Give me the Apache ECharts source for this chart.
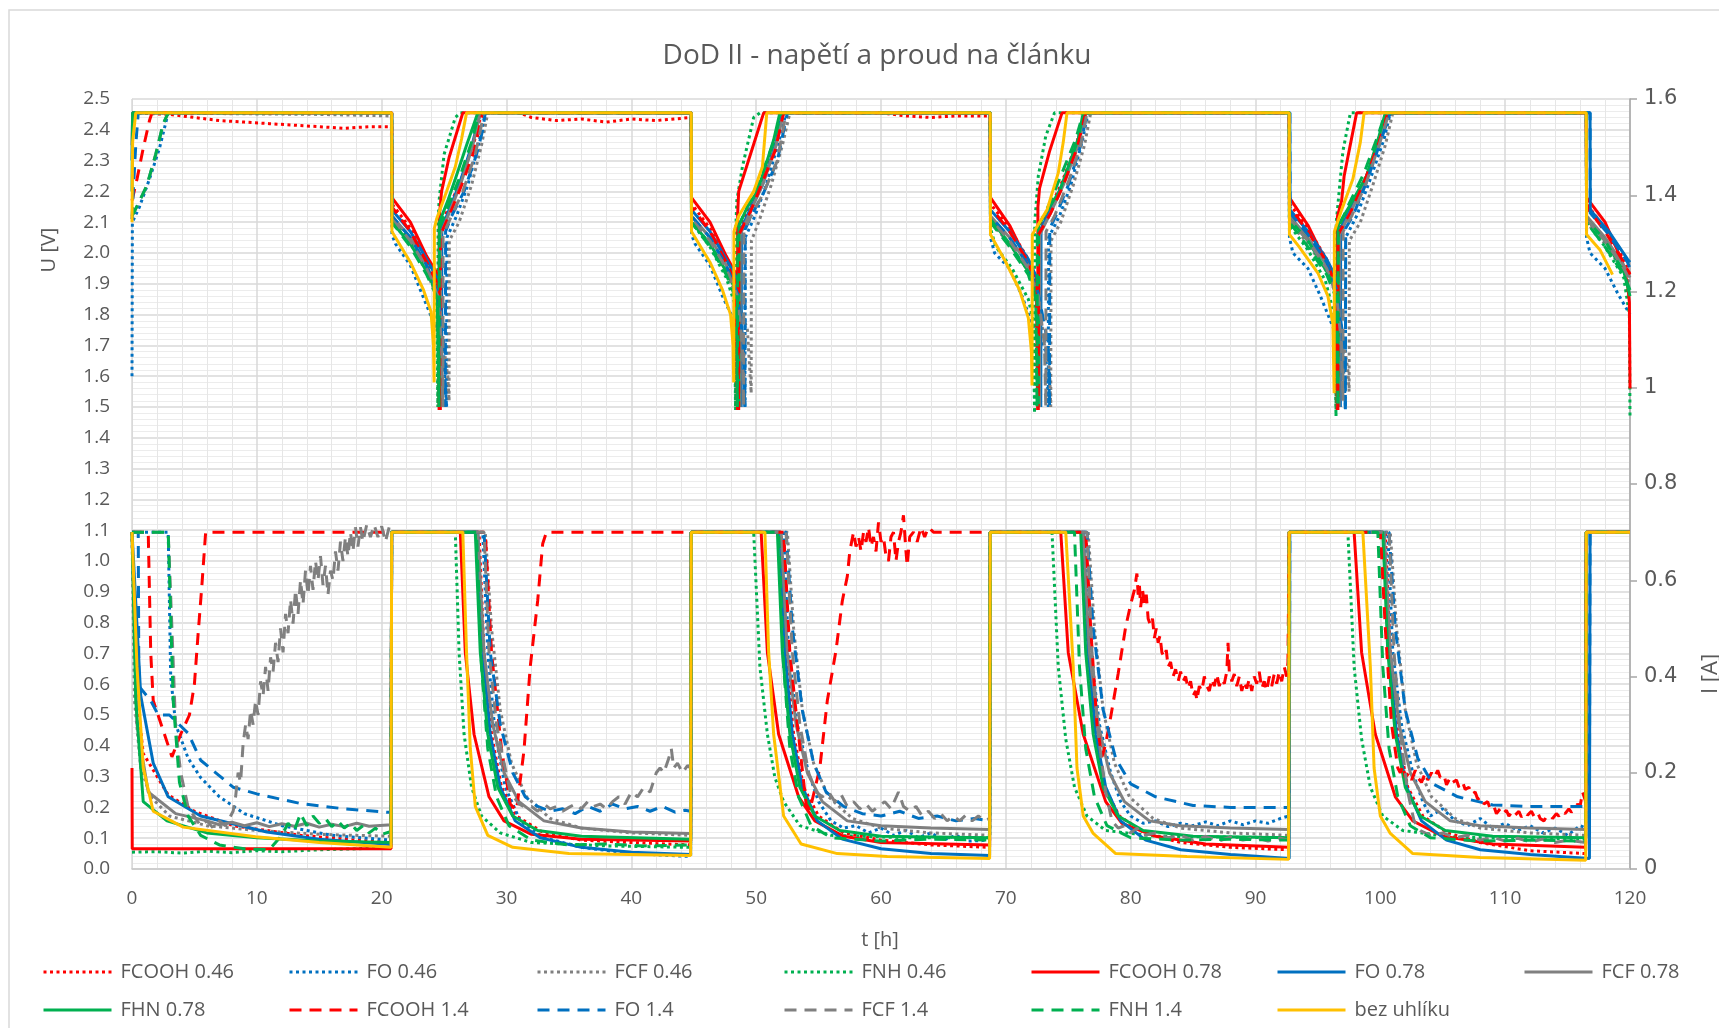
<!DOCTYPE html>
<html><head><meta charset="utf-8">
<script src="https://cdn.jsdelivr.net/npm/echarts@6/dist/echarts.min.js"></script>
<style>html,body{margin:0;padding:0;background:#fff;overflow:hidden}#c{width:1719px;height:1028px}</style>
</head><body><div id="c"></div><script>
// ---------- DATA ----------
const chartTitle = 'DoD II - napětí a proud na článku';
const xName = 't [h]', yLeftName = 'U [V]', yRightName = 'I [A]';
const seriesNames = ['FCOOH 0.46','FO 0.46','FCF 0.46','FNH 0.46','FCOOH 0.78','FO 0.78','FCF 0.78','FHN 0.78','FCOOH 1.4','FO 1.4','FCF 1.4','FNH 1.4','bez uhlíku'];

// Voltage [t h, U V]
const V_FCOOH_046 = [[0,2.455],[3,2.45],[5,2.44],[7,2.43],[9,2.425],[11,2.42],[13,2.415],[15,2.41],[17,2.405],[19,2.41],[20.78,2.41],[20.82,2.16],[22.3,2.08],[23.6,1.98],[24.5,1.88],[24.6,1.52],[24.62,2.08],[25.4,2.15],[26.3,2.23],[27.4,2.36],[28.0,2.455],[31,2.455],[32,2.44],[34,2.43],[36,2.435],[38,2.425],[40,2.435],[42,2.43],[44.78,2.44],[44.82,2.16],[46.3,2.08],[47.6,1.98],[48.5,1.88],[48.6,1.52],[48.62,2.08],[49.5,2.15],[50.4,2.23],[51.6,2.36],[52.2,2.455],[60,2.455],[62,2.445],[64,2.44],[66,2.445],[68.73,2.445],[68.77,2.16],[70.3,2.08],[71.8,1.98],[72.5,1.88],[72.6,1.52],[72.62,2.08],[73.6,2.15],[74.5,2.23],[75.7,2.36],[76.3,2.455],[92.7,2.455],[92.72,2.16],[94.2,2.08],[95.7,1.98],[96.6,1.88],[96.7,1.52],[96.72,2.08],[97.7,2.15],[98.9,2.25],[100,2.37],[100.6,2.455],[116.5,2.455],[116.52,2.16],[118,2.08],[119.5,1.98],[120,1.93]];
const V_FO_046 = [[0,1.60],[0.03,2.10],[0.6,2.15],[1.4,2.24],[2.2,2.34],[2.9,2.455],[20.8,2.455],[20.82,2.06],[21.1,2.03],[22.3,1.96],[23.3,1.86],[24.0,1.79],[24.9,1.72],[25.2,1.50],[25.22,2.05],[26.0,2.12],[26.9,2.22],[27.8,2.36],[28.3,2.455],[44.8,2.455],[44.82,2.06],[45.1,2.03],[46.3,1.96],[47.3,1.86],[48.0,1.80],[48.9,1.70],[49.1,1.50],[49.12,2.05],[49.9,2.12],[50.8,2.22],[51.8,2.36],[52.4,2.455],[68.75,2.455],[68.77,2.05],[69.1,2.0],[70.3,1.95],[71.3,1.86],[72.0,1.78],[73.2,1.68],[73.4,1.50],[73.42,2.05],[74.3,2.12],[75.2,2.22],[76.1,2.36],[76.6,2.455],[92.7,2.455],[92.72,2.05],[93.0,2.0],[94.2,1.95],[95.2,1.86],[96.0,1.78],[97.0,1.68],[97.2,1.50],[97.22,2.05],[98.1,2.12],[99.2,2.24],[100.3,2.37],[100.8,2.455],[116.5,2.455],[116.52,2.05],[116.8,2.0],[118,1.95],[119,1.87],[120,1.80]];
const V_FCF_046 = [[0,2.455],[15,2.45],[20.78,2.445],[20.82,2.10],[22.3,2.03],[23.6,1.94],[24.4,1.86],[25.3,1.60],[25.4,1.52],[25.42,2.04],[26.2,2.10],[27.2,2.22],[28.0,2.35],[28.5,2.455],[44.8,2.455],[44.82,2.10],[46.3,2.03],[47.6,1.94],[48.4,1.86],[49.3,1.75],[49.6,1.545],[49.62,2.04],[50.2,2.10],[51.2,2.22],[52.1,2.35],[52.7,2.455],[68.75,2.455],[68.77,2.10],[70.3,2.03],[71.8,1.94],[72.5,1.86],[73.5,1.62],[73.6,1.50],[73.62,2.04],[74.4,2.10],[75.4,2.22],[76.3,2.35],[76.8,2.455],[92.7,2.455],[92.72,2.10],[94.2,2.03],[95.7,1.94],[96.5,1.86],[97.4,1.62],[97.5,1.55],[97.52,2.04],[98.4,2.10],[99.4,2.22],[100.4,2.35],[101.0,2.455],[116.5,2.455],[116.52,2.10],[118,2.03],[119.5,1.94],[120,1.90]];
const V_FNH_046 = [[0,2.455],[20.8,2.455],[20.82,2.12],[22.3,2.04],[23.6,1.95],[24.4,1.86],[24.5,1.50],[24.52,2.10],[24.6,2.17],[25.0,2.32],[25.9,2.44],[26.3,2.455],[44.8,2.455],[44.82,2.10],[46.3,2.02],[47.6,1.92],[48.25,1.84],[48.35,1.49],[48.37,2.08],[48.45,2.17],[48.9,2.28],[49.8,2.44],[50.3,2.455],[68.75,2.455],[68.77,2.08],[69.2,2.02],[70.5,1.95],[71.8,1.85],[72.2,1.78],[72.3,1.48],[72.32,2.10],[72.6,2.25],[73.2,2.38],[73.9,2.455],[92.7,2.455],[92.72,2.09],[94.2,2.01],[95.6,1.91],[96.3,1.80],[96.45,1.47],[96.47,2.10],[96.7,2.20],[97.0,2.33],[97.6,2.455],[116.5,2.455],[116.52,2.10],[118.0,2.02],[119.5,1.92],[119.95,1.80],[120,1.47]];
const V_FCOOH_078 = [[0,2.455],[20.8,2.455],[20.82,2.18],[22.3,2.10],[23.6,1.99],[24.5,1.93],[24.6,1.49],[24.62,2.12],[24.8,2.20],[25.4,2.31],[26.5,2.455],[44.8,2.455],[44.82,2.18],[46.3,2.10],[47.6,1.99],[48.4,1.93],[48.5,1.49],[48.52,2.13],[48.6,2.20],[49.5,2.315],[50.6,2.455],[68.75,2.455],[68.77,2.18],[70.3,2.09],[71.8,1.965],[72.45,1.92],[72.55,1.49],[72.57,2.15],[72.7,2.21],[73.5,2.33],[74.5,2.455],[92.7,2.455],[92.72,2.18],[94.2,2.09],[95.7,1.966],[96.45,1.92],[96.55,1.49],[96.57,2.12],[96.9,2.17],[97.1,2.25],[98.1,2.455],[116.5,2.455],[116.52,2.18],[118.0,2.10],[119.4,1.97],[119.8,1.90],[119.95,1.84],[120,1.56]];
const V_FO_078 = [[0,2.30],[0.05,2.455],[20.8,2.455],[20.82,2.14],[22.3,2.07],[23.6,1.98],[24.7,1.90],[24.8,1.50],[24.82,2.08],[25.5,2.15],[26.2,2.22],[27.3,2.36],[27.9,2.455],[44.8,2.455],[44.82,2.14],[46.3,2.07],[47.6,1.98],[48.7,1.90],[48.8,1.50],[48.82,2.08],[49.6,2.15],[50.5,2.22],[51.6,2.36],[52.1,2.455],[68.75,2.455],[68.77,2.14],[70.3,2.07],[71.8,1.98],[72.7,1.90],[72.8,1.50],[72.82,2.08],[73.7,2.15],[74.6,2.23],[75.8,2.37],[76.3,2.455],[92.75,2.455],[92.77,2.14],[94.2,2.07],[95.7,1.98],[96.7,1.90],[96.8,1.50],[96.82,2.08],[97.7,2.15],[98.9,2.25],[100.0,2.38],[100.5,2.455],[116.8,2.455],[116.82,2.14],[118.3,2.07],[119.8,1.98],[120,1.97]];
const V_FCF_078 = [[0,2.35],[0.05,2.455],[20.8,2.455],[20.82,2.12],[22.3,2.05],[23.6,1.96],[24.6,1.86],[24.7,1.50],[24.72,2.06],[25.5,2.14],[26.3,2.22],[27.3,2.35],[27.9,2.455],[44.8,2.455],[44.82,2.12],[46.3,2.05],[47.6,1.96],[48.6,1.86],[48.7,1.50],[48.72,2.06],[49.6,2.14],[50.5,2.22],[51.6,2.35],[52.2,2.455],[68.75,2.455],[68.77,2.12],[70.3,2.05],[71.8,1.96],[72.6,1.86],[72.7,1.50],[72.72,2.06],[73.7,2.14],[74.6,2.22],[75.8,2.35],[76.4,2.455],[92.7,2.455],[92.72,2.12],[94.2,2.05],[95.7,1.96],[96.6,1.86],[96.7,1.50],[96.72,2.06],[97.7,2.14],[98.9,2.24],[100,2.37],[100.5,2.455],[116.5,2.455],[116.52,2.12],[118.0,2.05],[119.5,1.96],[120,1.92]];
const V_FHN_078 = [[0,2.20],[0.05,2.455],[20.8,2.455],[20.82,2.10],[22.3,2.03],[23.6,1.94],[24.45,1.87],[24.6,1.50],[24.62,2.10],[25.3,2.17],[25.9,2.24],[26.8,2.35],[27.4,2.42],[27.7,2.455],[44.8,2.455],[44.82,2.10],[46.3,2.03],[47.6,1.94],[48.5,1.87],[48.6,1.50],[48.62,2.09],[49.3,2.15],[50.1,2.20],[51.4,2.367],[51.9,2.455],[68.75,2.455],[68.77,2.11],[70.3,2.03],[71.8,1.94],[72.5,1.87],[72.6,1.50],[72.62,2.09],[73.5,2.15],[74.3,2.20],[75.8,2.37],[76.2,2.455],[92.7,2.455],[92.72,2.11],[94.2,2.04],[95.7,1.94],[96.5,1.88],[96.6,1.50],[96.62,2.09],[97.5,2.15],[98.9,2.25],[99.9,2.38],[100.4,2.455],[116.5,2.455],[116.52,2.11],[118.0,2.04],[119.5,1.94],[120,1.86]];
const V_FCOOH_14 = [[0,2.17],[0.4,2.24],[0.9,2.34],[1.4,2.43],[1.6,2.455],[20.8,2.455],[20.82,2.15],[22.3,2.07],[23.6,1.97],[24.6,1.89],[24.7,1.49],[24.72,2.06],[25.5,2.13],[26.4,2.22],[27.4,2.33],[28.1,2.455],[44.8,2.455],[44.82,2.15],[46.3,2.07],[47.6,1.97],[48.5,1.89],[48.6,1.49],[48.62,2.06],[49.5,2.13],[50.4,2.22],[51.5,2.33],[52.2,2.455],[68.75,2.455],[68.77,2.15],[70.3,2.07],[71.8,1.97],[72.5,1.89],[72.6,1.49],[72.62,2.06],[73.6,2.13],[74.6,2.22],[75.7,2.34],[76.4,2.455],[92.7,2.455],[92.72,2.15],[94.2,2.07],[95.7,1.97],[96.5,1.89],[96.6,1.49],[96.62,2.06],[97.6,2.13],[98.8,2.24],[99.9,2.36],[100.6,2.455],[116.5,2.455],[116.52,2.15],[118,2.07],[119.5,1.97],[120,1.93]];
const V_FO_14 = [[0,2.11],[0.1,2.20],[0.3,2.35],[0.5,2.455],[20.8,2.455],[20.82,2.12],[22.3,2.05],[23.6,1.96],[24.5,1.87],[25.0,1.70],[25.1,1.50],[25.12,2.07],[25.6,2.12],[26.6,2.20],[27.6,2.32],[28.1,2.40],[28.3,2.455],[44.8,2.455],[44.82,2.12],[46.3,2.05],[47.6,1.96],[48.5,1.87],[49.0,1.70],[49.1,1.50],[49.12,2.077],[49.6,2.12],[50.6,2.196],[51.7,2.30],[52.5,2.455],[68.75,2.455],[68.77,2.12],[70.3,2.05],[71.8,1.96],[72.6,1.87],[73.4,1.70],[73.5,1.50],[73.52,2.08],[74.0,2.12],[75.0,2.22],[76.0,2.35],[76.5,2.455],[92.75,2.455],[92.77,2.13],[94.2,2.06],[95.7,1.97],[96.5,1.88],[97.1,1.70],[97.2,1.48],[97.22,2.08],[97.8,2.12],[98.9,2.23],[100,2.36],[100.8,2.455],[116.8,2.455],[116.82,2.13],[118.3,2.06],[119.8,1.97],[120,1.95]];
const V_FCF_14 = [[0,2.12],[0.5,2.16],[1.2,2.22],[1.9,2.32],[2.5,2.42],[2.9,2.455],[20.8,2.455],[20.82,2.11],[22.3,2.04],[23.6,1.95],[24.5,1.86],[24.8,1.70],[24.9,1.50],[24.92,2.06],[25.6,2.12],[26.5,2.20],[27.5,2.32],[28.2,2.455],[44.8,2.455],[44.82,2.11],[46.3,2.04],[47.6,1.95],[48.5,1.86],[48.9,1.70],[49.0,1.50],[49.02,2.077],[49.6,2.12],[50.6,2.196],[51.7,2.30],[52.4,2.455],[68.75,2.455],[68.77,2.11],[70.3,2.04],[71.8,1.95],[72.6,1.86],[73.1,1.70],[73.2,1.50],[73.22,2.07],[73.9,2.12],[75,2.23],[76,2.35],[76.5,2.455],[92.7,2.455],[92.72,2.11],[94.2,2.04],[95.7,1.95],[96.5,1.86],[96.9,1.70],[97.0,1.52],[97.02,2.07],[97.7,2.12],[98.8,2.22],[99.9,2.35],[100.7,2.455],[116.5,2.455],[116.52,2.11],[118,2.04],[119.5,1.95],[120,1.91]];
const V_FNH_14 = [[0,2.12],[0.5,2.16],[1.2,2.22],[1.9,2.32],[2.5,2.42],[2.9,2.455],[20.8,2.455],[20.82,2.10],[22.3,2.02],[23.6,1.93],[24.5,1.85],[24.6,1.50],[24.62,2.08],[25.4,2.16],[26.2,2.24],[27.2,2.36],[27.8,2.455],[44.8,2.455],[44.82,2.10],[46.3,2.02],[47.6,1.93],[48.4,1.85],[48.5,1.50],[48.52,2.08],[49.4,2.16],[50.3,2.24],[51.4,2.36],[52.0,2.455],[68.75,2.455],[68.77,2.10],[70.3,2.02],[71.8,1.93],[72.4,1.85],[72.5,1.50],[72.52,2.08],[73.5,2.16],[74.4,2.25],[75.6,2.37],[76.2,2.455],[92.7,2.455],[92.72,2.10],[94.2,2.02],[95.7,1.93],[96.5,1.85],[96.6,1.50],[96.62,2.08],[97.5,2.16],[98.7,2.26],[99.8,2.38],[100.4,2.455],[116.5,2.455],[116.52,2.10],[118.0,2.02],[119.5,1.93],[120,1.88]];
const V_BEZ = [[0,2.10],[0.05,2.36],[0.3,2.455],[20.8,2.455],[20.82,2.07],[22.3,1.97],[23.35,1.88],[23.95,1.81],[24.15,1.70],[24.2,1.58],[24.22,2.08],[24.4,2.11],[25.2,2.20],[25.9,2.28],[26.4,2.37],[26.8,2.455],[44.8,2.455],[44.82,2.07],[46.3,1.97],[47.3,1.88],[47.95,1.80],[48.15,1.70],[48.2,1.58],[48.22,2.07],[48.6,2.12],[49.8,2.20],[50.5,2.28],[50.85,2.455],[68.75,2.455],[68.77,2.06],[70.0,1.97],[71.1,1.88],[71.8,1.79],[72.05,1.68],[72.1,1.57],[72.12,2.06],[73.3,2.14],[74.2,2.26],[74.6,2.36],[74.9,2.455],[92.7,2.455],[92.72,2.06],[93.5,2.02],[95.0,1.935],[95.8,1.86],[96.2,1.77],[96.3,1.545],[96.32,2.07],[96.9,2.14],[97.8,2.24],[98.4,2.36],[98.7,2.455],[116.5,2.455],[116.52,2.06],[117.6,2.01],[118.6,1.93]];

// Current [t h, I A]
const I_FCOOH_046 = [[0,0.7],[0.3,0.38],[0.9,0.24],[2.9,0.154],[5,0.12],[8.1,0.09],[13.5,0.07],[18.9,0.058],[20.75,0.055],[20.8,0.7],[27.8,0.7],[28.2,0.45],[28.8,0.28],[29.6,0.17],[30.8,0.11],[33,0.075],[36,0.06],[40,0.055],[44.75,0.05],[44.8,0.7],[52.0,0.7],[52.4,0.45],[53,0.28],[53.8,0.17],[55,0.11],[57,0.075],[60,0.06],[64,0.05],[68.7,0.045],[68.75,0.7],[76.1,0.7],[76.5,0.45],[77.1,0.28],[77.9,0.17],[79.1,0.11],[81.1,0.075],[84,0.055],[88,0.045],[92.65,0.04],[92.7,0.7],[100.4,0.7],[100.8,0.45],[101.4,0.28],[102.2,0.17],[103.4,0.11],[105.4,0.075],[108,0.055],[112,0.038],[116.45,0.032],[116.5,0.7],[120,0.7]];
const I_FO_046 = [[0,0.7],[2.9,0.7],[3.1,0.4],[3.5,0.3],[4.5,0.23],[5.5,0.19],[7,0.15],[9,0.115],[12,0.09],[16,0.07],[20.75,0.06],[20.8,0.7],[28.1,0.7],[28.5,0.45],[29.1,0.28],[29.9,0.17],[31.1,0.1],[33,0.065],[36,0.045],[40,0.032],[44.75,0.026],[44.8,0.7],[52.2,0.7],[52.6,0.45],[53.3,0.3],[54.2,0.2],[55,0.14],[56,0.1],[57,0.085],[58,0.09],[59,0.075],[60,0.085],[61,0.07],[62,0.08],[63,0.065],[64,0.075],[65,0.06],[66,0.07],[67,0.058],[68.7,0.06],[68.75,0.7],[76.4,0.7],[76.8,0.45],[77.5,0.3],[78.4,0.2],[79.2,0.14],[80,0.11],[81,0.095],[82,0.1],[83,0.088],[84,0.095],[85,0.09],[86,0.098],[87,0.09],[88,0.1],[89,0.092],[90,0.1],[91,0.095],[92,0.105],[92.65,0.11],[92.7,0.7],[100.6,0.7],[101,0.45],[101.7,0.3],[102.6,0.2],[103.4,0.14],[104,0.11],[105,0.125],[106,0.1],[107,0.09],[108,0.105],[109,0.085],[110,0.095],[111,0.08],[112,0.09],[113,0.075],[114,0.085],[115,0.07],[116,0.09],[116.45,0.085],[116.5,0.7],[120,0.7]];
const I_FCF_046 = [[0,0.7],[0.2,0.35],[0.7,0.21],[1.5,0.15],[3,0.11],[6,0.09],[10,0.08],[15,0.072],[20.75,0.068],[20.8,0.7],[28.3,0.7],[28.8,0.5],[29.5,0.33],[30.4,0.22],[31.6,0.15],[33.5,0.105],[36,0.085],[40,0.075],[44.75,0.07],[44.8,0.7],[52.5,0.7],[53,0.5],[53.7,0.33],[54.6,0.22],[55.8,0.15],[57.7,0.105],[60,0.085],[64,0.075],[68.7,0.07],[68.75,0.7],[76.6,0.7],[77.1,0.5],[77.8,0.33],[78.7,0.22],[79.9,0.15],[81.8,0.105],[84,0.085],[88,0.075],[92.65,0.07],[92.7,0.7],[100.8,0.7],[101.3,0.5],[102,0.33],[102.9,0.22],[104.1,0.15],[106,0.105],[108,0.085],[112,0.075],[116.45,0.07],[116.5,0.7],[120,0.7]];
const I_FNH_046 = [[0,0.035],[2,0.036],[4,0.033],[6,0.037],[8,0.034],[10,0.038],[12,0.036],[15,0.04],[18,0.042],[20.75,0.045],[20.8,0.7],[25.9,0.7],[26.2,0.45],[26.6,0.28],[27.2,0.17],[28,0.11],[29.5,0.075],[32,0.055],[38,0.048],[44.75,0.045],[44.8,0.7],[49.8,0.7],[50.3,0.42],[50.9,0.28],[51.5,0.19],[52.2,0.14],[53.5,0.09],[56,0.07],[62,0.065],[68.7,0.065],[68.75,0.7],[73.7,0.7],[74.2,0.42],[74.8,0.27],[75.5,0.17],[76.5,0.11],[78,0.08],[82,0.068],[92.65,0.065],[92.7,0.7],[97.4,0.7],[97.9,0.42],[98.5,0.27],[99.2,0.17],[100.2,0.11],[101.8,0.08],[106,0.066],[116.45,0.062],[116.5,0.7],[120,0.7]];
const I_FCOOH_078 = [[0,0.21],[0.02,0.042],[20.75,0.042],[20.8,0.7],[26.3,0.7],[26.7,0.45],[27.4,0.28],[28.6,0.15],[29.8,0.1],[32,0.072],[36,0.062],[44.75,0.058],[44.8,0.7],[50.4,0.7],[50.9,0.45],[51.8,0.28],[53.4,0.15],[54.7,0.1],[57,0.068],[60,0.055],[68.7,0.05],[68.75,0.7],[74.4,0.7],[75.0,0.45],[76.2,0.28],[78.0,0.14],[79.3,0.095],[82,0.068],[86,0.052],[92.65,0.045],[92.7,0.7],[97.9,0.7],[98.5,0.45],[99.6,0.28],[101.2,0.15],[102.6,0.1],[105,0.068],[109,0.052],[116.45,0.045],[116.5,0.7],[120,0.7]];
const I_FO_078 = [[0,0.7],[0.7,0.36],[1.7,0.22],[2.9,0.15],[5.5,0.11],[10.8,0.077],[15,0.062],[20.75,0.051],[20.8,0.7],[27.7,0.7],[28.1,0.45],[28.7,0.28],[29.5,0.17],[30.7,0.1],[32.7,0.065],[36,0.045],[40,0.035],[44.75,0.03],[44.8,0.7],[51.9,0.7],[52.3,0.45],[52.9,0.28],[53.7,0.17],[54.9,0.1],[56.9,0.062],[60,0.042],[64,0.032],[68.7,0.028],[68.75,0.7],[76.2,0.7],[76.6,0.45],[77.2,0.28],[78,0.17],[79.2,0.1],[81.2,0.06],[84,0.04],[88,0.03],[92.7,0.022],[92.75,0.7],[100.3,0.7],[100.7,0.45],[101.3,0.28],[102.1,0.17],[103.3,0.1],[105.3,0.06],[108,0.04],[112,0.03],[116.75,0.022],[116.8,0.7],[120,0.7]];
const I_FCF_078 = [[0,0.7],[0.4,0.3],[1.3,0.16],[3.5,0.115],[6,0.1],[7,0.092],[8,0.097],[9,0.09],[10,0.096],[11,0.088],[12,0.094],[13,0.089],[14,0.095],[15,0.087],[16,0.093],[17,0.088],[18,0.095],[19,0.089],[20.75,0.092],[20.8,0.7],[27.7,0.7],[28.2,0.45],[28.9,0.3],[29.8,0.2],[31,0.14],[33,0.1],[36,0.085],[40,0.077],[44.75,0.074],[44.8,0.7],[52.0,0.7],[52.5,0.45],[53.2,0.3],[54.1,0.2],[55.3,0.14],[57.3,0.1],[60,0.09],[64,0.085],[68.7,0.082],[68.75,0.7],[76.2,0.7],[76.7,0.45],[77.4,0.3],[78.3,0.2],[79.5,0.14],[81.5,0.1],[84,0.09],[88,0.085],[92.65,0.082],[92.7,0.7],[100.3,0.7],[100.8,0.45],[101.5,0.3],[102.4,0.2],[103.6,0.14],[105.6,0.1],[108,0.09],[112,0.085],[116.45,0.082],[116.5,0.7],[120,0.7]];
const I_FHN_078 = [[0,0.7],[0.3,0.35],[0.9,0.14],[2.8,0.1],[6,0.075],[10,0.065],[15,0.058],[20.75,0.055],[20.8,0.7],[27.5,0.7],[27.9,0.45],[28.5,0.28],[29.3,0.17],[30.5,0.11],[32.5,0.08],[36,0.068],[44.75,0.062],[44.8,0.7],[51.7,0.7],[52.1,0.45],[52.7,0.28],[53.5,0.17],[54.7,0.11],[56.7,0.08],[60,0.068],[68.7,0.065],[68.75,0.7],[76.0,0.7],[76.4,0.45],[77.0,0.28],[77.8,0.17],[79,0.11],[81,0.08],[85,0.068],[92.65,0.065],[92.7,0.7],[100.2,0.7],[100.6,0.45],[101.2,0.28],[102,0.17],[103.2,0.11],[105.2,0.08],[109,0.068],[116.45,0.065],[116.5,0.7],[120,0.7]];
const I_FCOOH_14 = [[0,0.7],[1.3,0.7],[1.5,0.45],[1.7,0.35],[2.6,0.28],[3.2,0.233],[3.9,0.28],[4.6,0.32],[5.0,0.384],[5.3,0.49],[5.6,0.59],[5.9,0.7],[28.3,0.7],[28.8,0.45],[29.6,0.25],[30.3,0.135],[30.8,0.122],[31.4,0.246],[31.9,0.42],[32.5,0.558],[32.9,0.676],[33.2,0.7],[52.2,0.7],[52.7,0.45],[53.3,0.3],[54.0,0.135],[54.3,0.122],[55.1,0.21],[55.7,0.35],[56.4,0.455],[56.9,0.557],[57.3,0.608],[57.5,0.66],[57.8,0.7],[58.0,0.67],[58.2,0.69],[58.4,0.66],[58.6,0.7],[58.8,0.68],[59.0,0.71],[59.2,0.67],[59.4,0.69],[59.6,0.66],[59.8,0.72],[60.0,0.68],[60.2,0.69],[60.4,0.65],[60.6,0.64],[60.8,0.69],[61.0,0.7],[61.2,0.64],[61.4,0.68],[61.6,0.7],[61.8,0.735],[62.0,0.66],[62.1,0.63],[62.3,0.69],[62.6,0.7],[62.9,0.68],[63.2,0.71],[63.5,0.69],[63.8,0.71],[64.2,0.7],[76.4,0.7],[76.8,0.5],[77.3,0.3],[77.7,0.233],[78.0,0.26],[78.4,0.316],[79.0,0.406],[79.6,0.503],[80.0,0.55],[80.3,0.58],[80.5,0.614],[80.6,0.57],[80.7,0.59],[80.8,0.544],[80.95,0.58],[81.1,0.55],[81.25,0.57],[81.4,0.52],[81.6,0.506],[81.75,0.52],[81.9,0.48],[82.05,0.5],[82.2,0.47],[82.35,0.485],[82.5,0.45],[82.7,0.44],[82.85,0.455],[83.0,0.42],[83.2,0.43],[83.4,0.4],[83.6,0.415],[83.8,0.39],[84.0,0.41],[84.2,0.39],[84.4,0.4],[84.6,0.375],[84.8,0.39],[85.0,0.36],[85.2,0.37],[85.3,0.35],[85.5,0.38],[85.7,0.37],[85.9,0.40],[86.1,0.38],[86.3,0.37],[86.5,0.395],[86.7,0.38],[86.9,0.405],[87.1,0.38],[87.3,0.395],[87.5,0.385],[87.7,0.41],[87.8,0.47],[87.9,0.41],[88.1,0.39],[88.3,0.405],[88.5,0.38],[88.7,0.4],[88.9,0.37],[89.1,0.39],[89.3,0.375],[89.5,0.395],[89.7,0.37],[89.9,0.4],[90.1,0.385],[90.3,0.41],[90.5,0.375],[90.7,0.39],[90.9,0.37],[91.1,0.4],[91.3,0.38],[91.5,0.405],[91.7,0.385],[91.9,0.41],[92.1,0.39],[92.3,0.42],[92.5,0.4],[92.6,0.43],[92.7,0.7],[100.0,0.7],[100.4,0.5],[100.9,0.3],[101.4,0.21],[101.6,0.2],[101.8,0.215],[102.0,0.19],[102.3,0.2],[102.5,0.185],[102.8,0.205],[103.0,0.19],[103.3,0.18],[103.6,0.2],[103.8,0.185],[104.1,0.2],[104.3,0.19],[104.6,0.205],[104.8,0.19],[105.1,0.195],[105.3,0.175],[105.6,0.19],[105.8,0.18],[106.1,0.185],[106.3,0.17],[106.6,0.18],[106.8,0.165],[107.1,0.17],[107.3,0.155],[107.6,0.16],[107.8,0.145],[108.1,0.15],[108.3,0.135],[108.6,0.14],[108.8,0.125],[109.1,0.13],[109.3,0.115],[109.6,0.125],[109.8,0.115],[110.1,0.122],[110.3,0.11],[110.6,0.12],[110.8,0.112],[111.1,0.12],[111.3,0.108],[111.6,0.118],[111.8,0.112],[112.1,0.12],[112.3,0.11],[112.6,0.118],[112.8,0.105],[113.1,0.1],[113.3,0.108],[113.6,0.112],[113.8,0.105],[114.1,0.115],[114.3,0.11],[114.6,0.12],[114.8,0.115],[115.1,0.125],[115.3,0.118],[115.6,0.128],[115.8,0.135],[116.0,0.13],[116.2,0.16],[116.45,0.14],[116.5,0.7],[120,0.7]];
const I_FO_14 = [[0,0.7],[0.5,0.7],[0.55,0.38],[1.5,0.35],[2.1,0.32],[3.0,0.32],[4.5,0.282],[5.5,0.226],[8.1,0.17],[10,0.156],[13.5,0.136],[17,0.125],[20.4,0.118],[20.75,0.118],[20.8,0.7],[28.2,0.7],[28.7,0.45],[29.5,0.3],[30.5,0.2],[31.5,0.15],[32.5,0.13],[33.5,0.12],[34.5,0.125],[35.5,0.115],[36.5,0.13],[37.5,0.12],[38.5,0.135],[39.5,0.125],[40.5,0.13],[41.5,0.12],[42.5,0.13],[43.5,0.118],[44.3,0.122],[44.75,0.12],[44.8,0.7],[52.4,0.7],[52.9,0.5],[53.7,0.33],[54.6,0.22],[55.6,0.16],[57,0.13],[58.5,0.115],[60,0.11],[61.5,0.12],[63,0.105],[64.5,0.11],[66,0.1],[67.5,0.105],[68.7,0.1],[68.75,0.7],[76.5,0.7],[77.0,0.5],[77.8,0.33],[78.8,0.23],[80,0.177],[82,0.15],[85,0.132],[88,0.128],[92.7,0.128],[92.75,0.7],[100.7,0.7],[101.2,0.5],[102,0.33],[103,0.23],[104.2,0.177],[106.2,0.15],[109,0.133],[112,0.13],[116.75,0.13],[116.8,0.7],[120,0.7]];
const I_FCF_14 = [[0,0.7],[2.9,0.7],[3.2,0.5],[3.5,0.29],[3.9,0.2],[4.5,0.128],[5.5,0.09],[6.0,0.1],[6.5,0.085],[7.0,0.1],[7.5,0.09],[8.1,0.12],[8.3,0.15],[8.5,0.2],[8.7,0.18],[8.9,0.26],[9.1,0.3],[9.3,0.27],[9.5,0.33],[9.7,0.3],[9.9,0.35],[10.1,0.32],[10.3,0.39],[10.5,0.36],[10.7,0.42],[10.9,0.37],[11.1,0.44],[11.3,0.41],[11.5,0.47],[11.7,0.43],[11.9,0.5],[12.1,0.45],[12.3,0.53],[12.5,0.49],[12.7,0.56],[12.9,0.51],[13.1,0.58],[13.3,0.53],[13.5,0.6],[13.7,0.55],[13.9,0.62],[14.1,0.57],[14.3,0.63],[14.5,0.58],[14.7,0.64],[14.9,0.6],[15.1,0.65],[15.3,0.59],[15.5,0.63],[15.7,0.57],[15.9,0.62],[16.1,0.6],[16.3,0.66],[16.5,0.62],[16.7,0.68],[16.9,0.64],[17.1,0.69],[17.3,0.65],[17.5,0.7],[17.7,0.66],[17.9,0.71],[18.1,0.67],[18.3,0.71],[18.5,0.68],[18.8,0.715],[19.1,0.69],[19.4,0.715],[19.7,0.69],[20.0,0.712],[20.3,0.68],[20.6,0.71],[20.75,0.7],[28.2,0.7],[28.6,0.45],[29.2,0.3],[29.8,0.22],[30.3,0.16],[31,0.135],[31.5,0.128],[32,0.13],[32.5,0.12],[33,0.135],[33.5,0.125],[34,0.13],[34.5,0.12],[35,0.128],[35.5,0.135],[36,0.125],[36.5,0.14],[37,0.13],[37.5,0.135],[38,0.125],[38.5,0.14],[39,0.15],[39.5,0.135],[40,0.16],[40.5,0.15],[41,0.17],[41.5,0.16],[42,0.2],[42.3,0.21],[42.6,0.2],[43,0.23],[43.2,0.25],[43.4,0.21],[43.7,0.22],[44.1,0.2],[44.5,0.215],[44.75,0.21],[44.8,0.7],[52.4,0.7],[52.9,0.45],[53.5,0.3],[54.2,0.2],[54.8,0.16],[55.3,0.15],[55.8,0.16],[56.3,0.14],[56.8,0.155],[57.3,0.13],[57.8,0.14],[58.3,0.125],[58.8,0.135],[59.3,0.12],[59.8,0.13],[60.3,0.14],[60.8,0.125],[61.4,0.16],[61.8,0.13],[62.3,0.12],[62.8,0.13],[63.3,0.11],[63.8,0.12],[64.3,0.105],[64.8,0.115],[65.3,0.1],[65.8,0.11],[66.3,0.1],[66.8,0.112],[67.3,0.1],[67.8,0.11],[68.3,0.1],[68.7,0.105],[68.75,0.7],[76.5,0.7],[76.9,0.45],[77.4,0.28],[78,0.16],[78.5,0.1],[79,0.085],[79.5,0.09],[80,0.075],[80.5,0.085],[81,0.07],[82,0.075],[83,0.065],[84,0.07],[85,0.06],[86,0.068],[87,0.058],[88,0.066],[89,0.06],[90,0.065],[91,0.058],[92,0.064],[92.65,0.06],[92.7,0.7],[100.7,0.7],[101.1,0.45],[101.6,0.28],[102.2,0.16],[102.7,0.1],[103.2,0.08],[104,0.07],[105,0.075],[106,0.065],[107,0.07],[108,0.06],[109,0.066],[110,0.058],[111,0.064],[112,0.056],[113,0.062],[114,0.055],[115,0.06],[116.45,0.055],[116.5,0.7],[120,0.7]];
const I_FNH_14 = [[0,0.7],[2.9,0.7],[3.3,0.35],[3.8,0.18],[4.5,0.11],[5.5,0.07],[7,0.05],[9,0.042],[11,0.04],[12,0.07],[12.5,0.095],[13,0.08],[13.5,0.115],[14,0.09],[14.5,0.11],[15,0.095],[15.5,0.105],[16,0.088],[16.5,0.1],[17,0.085],[17.5,0.095],[18,0.08],[18.5,0.09],[19,0.075],[19.5,0.085],[20,0.072],[20.75,0.078],[20.8,0.7],[27.6,0.7],[28.0,0.42],[28.5,0.25],[29.2,0.15],[30.2,0.09],[32,0.06],[35,0.05],[38,0.052],[41,0.048],[44.75,0.05],[44.8,0.7],[51.8,0.7],[52.2,0.42],[52.7,0.25],[53.4,0.15],[54.4,0.09],[56,0.065],[60,0.058],[64,0.062],[68.7,0.06],[68.75,0.7],[75.5,0.7],[75.9,0.42],[76.4,0.25],[77.1,0.15],[78.1,0.09],[80,0.065],[84,0.06],[88,0.062],[92.65,0.06],[92.7,0.7],[99.8,0.7],[100.2,0.42],[100.7,0.25],[101.4,0.15],[102.4,0.09],[104,0.065],[108,0.058],[112,0.06],[116.45,0.058],[116.5,0.7],[120,0.7]];
const I_BEZ = [[0,0.7],[0.4,0.42],[0.9,0.21],[1.7,0.12],[4.1,0.087],[9.9,0.067],[15,0.055],[20.75,0.045],[20.8,0.7],[26.5,0.7],[26.8,0.45],[27.1,0.25],[27.5,0.13],[28.5,0.07],[30.5,0.045],[35,0.032],[44.75,0.028],[44.8,0.7],[50.7,0.7],[51.0,0.45],[51.4,0.28],[52.2,0.11],[53.6,0.052],[56.5,0.032],[60.5,0.026],[68.7,0.022],[68.75,0.7],[74.8,0.7],[75.4,0.42],[75.7,0.21],[76.2,0.11],[77.0,0.074],[78.8,0.032],[84.5,0.026],[92.65,0.02],[92.7,0.7],[98.6,0.7],[99.2,0.42],[99.5,0.21],[100.0,0.11],[100.8,0.074],[102.6,0.032],[108,0.024],[116.45,0.018],[116.5,0.7],[120,0.7]];

const voltageData = [V_FCOOH_046,V_FO_046,V_FCF_046,V_FNH_046,V_FCOOH_078,V_FO_078,V_FCF_078,V_FHN_078,V_FCOOH_14,V_FO_14,V_FCF_14,V_FNH_14,V_BEZ];
const currentData = [I_FCOOH_046,I_FO_046,I_FCF_046,I_FNH_046,I_FCOOH_078,I_FO_078,I_FCF_078,I_FHN_078,I_FCOOH_14,I_FO_14,I_FCF_14,I_FNH_14,I_BEZ];

// ---------- STYLE ----------
const RED='#FF0000', BLUE='#0070C0', GRAY='#808080', GREEN='#00B050', YELLOW='#FFC000';
const colors = [RED,BLUE,GRAY,GREEN,RED,BLUE,GRAY,GREEN,RED,BLUE,GRAY,GREEN,YELLOW];
const DOT=[3,3.5], DASH=[12,8];
const dashes = [DOT,DOT,DOT,DOT,'solid','solid','solid','solid',DASH,DASH,DASH,DASH,'solid'];
const TXT='#595959', FONT='"Open Sans", sans-serif';

const series = [];
seriesNames.forEach((n,i)=>{
  series.push({name:n,type:'line',yAxisIndex:0,data:voltageData[i],symbol:'none',showSymbol:false,animation:false,
    lineStyle:{color:colors[i],width:3,type:dashes[i]},itemStyle:{color:colors[i]},z:2+i*0.01});
});
seriesNames.forEach((n,i)=>{
  series.push({name:n,type:'line',yAxisIndex:1,data:currentData[i],symbol:'none',showSymbol:false,animation:false,
    lineStyle:{color:colors[i],width:3,type:dashes[i]},itemStyle:{color:colors[i]},z:2+i*0.01});
});

const legCols=[42,288,536,783,1030,1276,1523], legRows=[962,1000];
const legends = seriesNames.map((n,i)=>{
  const r = i<7?0:1, c = i<7?i:i-7;
  return {data:[n],left:legCols[c],top:legRows[r],padding:0,itemWidth:68,itemHeight:20,
    itemStyle:{opacity:0,borderWidth:0},
    lineStyle:{width:3,color:colors[i],type:dashes[i]},
    textStyle:{color:TXT,fontSize:20,fontFamily:FONT,padding:[0,0,0,4]},selectedMode:false};
});

const chart = echarts.init(document.getElementById('c'),null,{renderer:'canvas'});
chart.setOption({
  animation:false,
  backgroundColor:'#fff',
  grid:{left:132,right:89,top:99,bottom:159,containLabel:false},
  legend:legends,
  xAxis:{type:'value',min:0,max:120,interval:10,
    axisLine:{show:true,lineStyle:{color:'#c8c8c8',width:1.5}},axisTick:{show:false},
    axisLabel:{color:TXT,fontSize:19,fontFamily:FONT,margin:20},
    splitLine:{show:true,lineStyle:{color:'#d9d9d9',width:1.5}},
    minorTick:{show:false,splitNumber:5},minorSplitLine:{show:true,lineStyle:{color:'#e6e6e6',width:1}}},
  yAxis:[
    {type:'value',min:0,max:2.5,interval:0.1,position:'left',
      axisLine:{show:true,lineStyle:{color:'#d9d9d9'}},axisTick:{show:false},
      axisLabel:{color:TXT,fontSize:19,fontFamily:FONT,margin:22,formatter:v=>v.toFixed(1)},
      splitLine:{show:true,lineStyle:{color:'#d9d9d9',width:1.5}},
      minorTick:{show:false,splitNumber:5},minorSplitLine:{show:true,lineStyle:{color:'#ececec',width:1}}},
    {type:'value',min:0,max:1.6,interval:0.2,position:'right',
      axisLine:{show:true,lineStyle:{color:'#a6a6a6',width:1.5}},
      axisTick:{show:true,inside:false,length:7,lineStyle:{color:'#a6a6a6',width:1.5}},
      axisLabel:{color:TXT,fontSize:21,fontFamily:'"DejaVu Sans", sans-serif',margin:14},
      splitLine:{show:false}}
  ],
  graphic:[
    {type:'rect',silent:true,z:-10,shape:{x:9,y:10,width:1780,height:1100},style:{fill:'none',stroke:'#d9d9d9',lineWidth:1.5}},
    {type:'text',silent:true,x:877,y:56,style:{text:chartTitle,fill:TXT,fontSize:28,fontFamily:FONT,align:'center',verticalAlign:'middle'}},
    {type:'text',silent:true,x:49,y:250,rotation:Math.PI/2,style:{text:yLeftName,fill:TXT,fontSize:20,fontFamily:FONT,align:'center',verticalAlign:'middle'}},
    {type:'text',silent:true,x:1711,y:674,rotation:Math.PI/2,style:{text:yRightName,fill:TXT,fontSize:22,fontFamily:FONT,align:'center',verticalAlign:'middle'}},
    {type:'text',silent:true,x:880,y:940,style:{text:xName,fill:TXT,fontSize:20,fontFamily:FONT,align:'center',verticalAlign:'middle'}}
  ],
  series:series
});
</script></body></html>
